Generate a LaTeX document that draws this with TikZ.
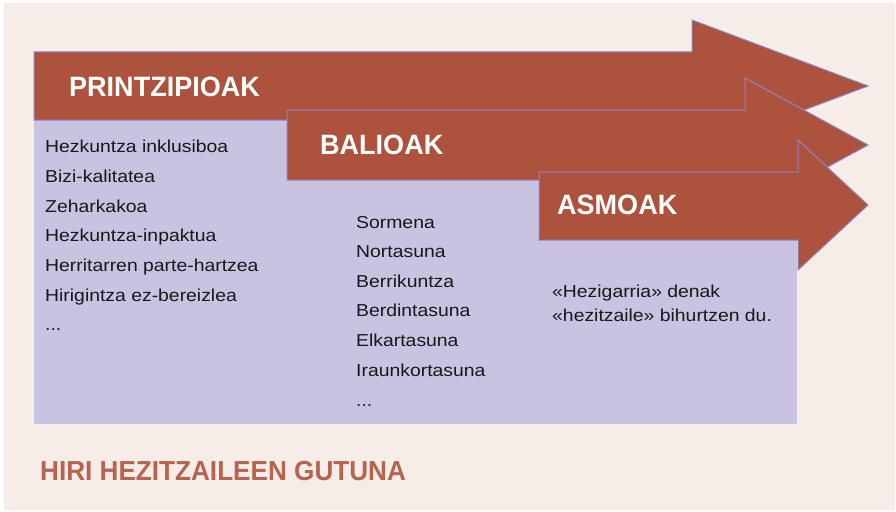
\documentclass[tikz,border=0pt]{standalone}
\usepackage{fontspec}
\setmainfont[FakeStretch=1.12]{Liberation Sans}
\newfontfamily\titlefont[FakeStretch=0.965]{Liberation Sans}
\newfontfamily\footfont[FakeStretch=0.95]{Liberation Sans}
\definecolor{bgbeige}{RGB}{246,237,233}
\definecolor{panel}{RGB}{201,195,225}
\definecolor{rust}{RGB}{173,82,61}
\definecolor{edge}{RGB}{142,134,196}
\definecolor{titlerust}{RGB}{184,99,80}
\definecolor{ink}{RGB}{26,22,26}
\tikzset{
  bigarrow/.style={fill=rust, draw=edge, line width=1pt, line join=miter},
  headtext/.style={anchor=base west, inner sep=0pt, text=white, font=\titlefont\bfseries\fontsize{28}{32}\selectfont},
  bodytext/.style={anchor=base west, inner sep=0pt, text=ink, font=\fontsize{17.3}{20}\selectfont},
}
\begin{document}
\begin{tikzpicture}[x=1pt,y=-1pt]
\useasboundingbox (0,0) rectangle (896,511);
\fill[white] (0,0) rectangle (896,511);
\fill[bgbeige] (4,3) rectangle (895,510);
% panel
\fill[panel] (34,60) rectangle (797,424);
% arrows
\draw[bigarrow] (34,52) -- (692,52) -- (692,20) -- (868,86) -- (692,152) -- (692,120) -- (34,120) -- cycle;
\draw[bigarrow] (287,110) -- (745,110) -- (745,78) -- (868,145) -- (745,212) -- (745,180) -- (287,180) -- cycle;
\draw[bigarrow] (539,172) -- (798,172) -- (798,140) -- (868,205) -- (798,270) -- (798,240) -- (539,240) -- cycle;
% titles
\node[headtext] (t1) at (69,96) {PRINTZIPIOAK};
\node[headtext] (t2) at (320,154) {BALIOAK};
\node[headtext] (t3) at (557,214) {ASMOAK};
% left list
\node[bodytext] (l1) at (45,152) {Hezkuntza inklusiboa};
\node[bodytext] (l2) at (45,182) {Bizi-kalitatea};
\node[bodytext] (l3) at (45,212) {Zeharkakoa};
\node[bodytext] (l4) at (45,241) {Hezkuntza-inpaktua};
\node[bodytext] (l5) at (45,271) {Herritarren parte-hartzea};
\node[bodytext] (l6) at (45,301) {Hirigintza ez-bereizlea};
\node[bodytext] (l7) at (45,330) {...};
% middle list
\node[bodytext] (m1) at (356,228) {Sormena};
\node[bodytext] (m2) at (356,257) {Nortasuna};
\node[bodytext] (m3) at (356,287) {Berrikuntza};
\node[bodytext] (m4) at (356,316) {Berdintasuna};
\node[bodytext] (m5) at (356,346) {Elkartasuna};
\node[bodytext] (m6) at (356,376) {Iraunkortasuna};
\node[bodytext] (m7) at (356,406) {...};
% right text
\node[bodytext] (r1) at (552,297) {«Hezigarria» denak};
\node[bodytext] (r2) at (552,321) {«hezitzaile» bihurtzen du.};
% bottom title
\node[anchor=base west, inner sep=0pt, text=titlerust, font=\footfont\bfseries\fontsize{27.5}{32}\selectfont] (bt) at (40,480) {HIRI HEZITZAILEEN GUTUNA};
\end{tikzpicture}
\end{document}
